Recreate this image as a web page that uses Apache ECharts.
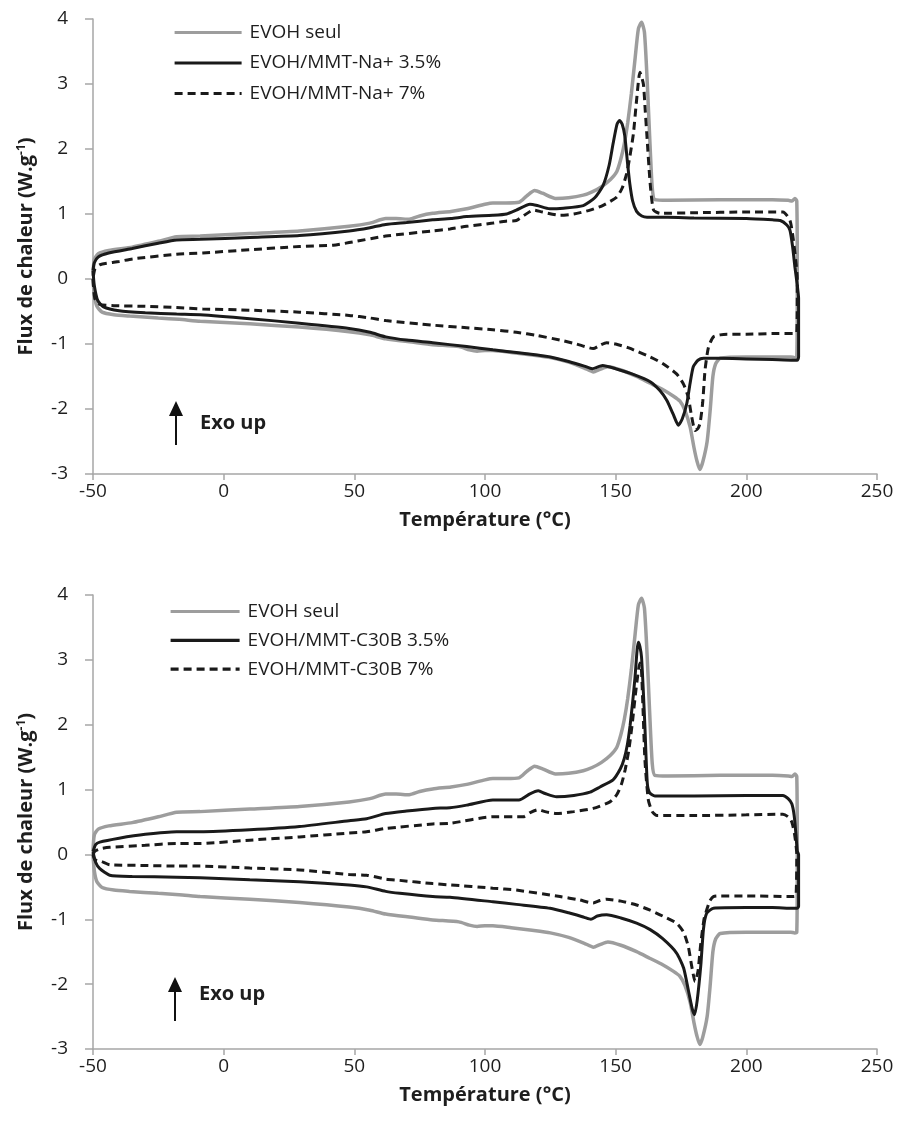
<!DOCTYPE html>
<html>
<head>
<meta charset="utf-8">
<script src="https://cdn.jsdelivr.net/npm/echarts@6/dist/echarts.min.js"></script>
<style>
html,body{margin:0;padding:0;background:#fff;}
#chart{width:901px;height:1135px;}
</style>
</head>
<body>
<div id="chart"></div>
<script>
// ---------- DATA (temperature °C, heat flux W/g) ----------
const xTicks = [-50, 0, 50, 100, 150, 200, 250];
const yTicks = [-3, -2, -1, 0, 1, 2, 3, 4];

// EVOH seul (same curve in both panels)
const evohHeat = [[-50,0.0],[-49.5,-0.25],[-48.5,-0.42],[-46.5,-0.51],[-42,-0.55],[-36,-0.57],[-25,-0.6],[-17,-0.62],[-9,-0.65],[10,-0.69],[29,-0.74],[48,-0.81],[56,-0.86],[62,-0.92],[72,-0.97],[80,-1.01],[90,-1.04],[94,-1.09],[97,-1.11],[100,-1.1],[103,-1.1],[110,-1.13],[118,-1.17],[125,-1.21],[132,-1.28],[138,-1.37],[141.5,-1.43],[144,-1.39],[147,-1.35],[152,-1.4],[158,-1.5],[163,-1.6],[168,-1.7],[172,-1.8],[174.6,-1.88],[176.5,-2.02],[178.5,-2.28],[180,-2.6],[181.1,-2.8],[182.2,-2.93],[183.3,-2.82],[185,-2.5],[186.2,-2.0],[187.2,-1.5],[188.3,-1.3],[190,-1.22],[200,-1.2],[210,-1.2],[217,-1.2],[218.5,-1.21],[219.3,-1.2],[219.5,0]];
const evohCool = [[-50,0.05],[-49.5,0.3],[-48,0.39],[-44,0.44],[-35,0.49],[-25,0.58],[-18,0.65],[-9,0.66],[10,0.7],[29,0.74],[48,0.81],[56,0.86],[62,0.93],[66,0.93],[71,0.92],[75,0.97],[80,1.01],[87,1.04],[93,1.08],[100,1.15],[103,1.17],[108,1.17],[113,1.18],[116,1.28],[119,1.36],[122,1.32],[127,1.24],[132,1.25],[137.6,1.29],[141,1.34],[144.6,1.42],[148,1.53],[150.4,1.65],[152,1.85],[153.3,2.08],[154.6,2.4],[156,2.85],[157.4,3.38],[158.7,3.85],[159.9,3.95],[161,3.8],[162,3.1],[163,2.2],[164,1.4],[165,1.22],[170,1.21],[190,1.22],[210,1.22],[216,1.21],[217.5,1.2],[218.6,1.24],[219.3,1.2],[219.5,0]];

// EVOH/MMT-Na+ 3.5%
const na35Heat = [[-50,0.13],[-49.5,-0.1],[-48.2,-0.33],[-46,-0.43],[-40,-0.49],[-30,-0.52],[-18,-0.54],[-9,-0.55],[10,-0.61],[29,-0.68],[48,-0.76],[56,-0.82],[62,-0.89],[70,-0.94],[80,-0.98],[93,-1.04],[103,-1.09],[112,-1.13],[120,-1.17],[125,-1.2],[132,-1.27],[138,-1.34],[141,-1.38],[145,-1.33],[150,-1.38],[157,-1.47],[163.2,-1.58],[167,-1.72],[169.6,-1.87],[172,-2.08],[174,-2.25],[175.5,-2.15],[177.2,-1.92],[178.5,-1.6],[179.7,-1.35],[181.5,-1.25],[183.6,-1.22],[190,-1.22],[200,-1.23],[210,-1.24],[218,-1.25],[219.5,-1.25],[220,-1.2],[220,-0.3]];
const na35Cool = [[-50,0.13],[-49.5,0.25],[-48,0.34],[-44,0.4],[-35,0.47],[-25,0.55],[-18,0.6],[-9,0.61],[10,0.64],[29,0.67],[48,0.74],[56,0.79],[62,0.84],[70,0.87],[80,0.91],[87,0.93],[93,0.96],[103,0.98],[108.3,1.0],[112,1.06],[117.2,1.15],[120,1.13],[124.8,1.08],[130,1.09],[137.6,1.13],[142,1.25],[145.2,1.44],[147.5,1.75],[149,2.08],[150.5,2.38],[151.5,2.44],[152.5,2.38],[153.5,2.2],[154.5,1.8],[155.4,1.47],[156.5,1.2],[158,1.04],[160,0.97],[162,0.95],[170,0.95],[180,0.94],[200,0.93],[210,0.91],[213,0.9],[215.5,0.83],[216.7,0.75],[217.7,0.5],[218.6,0.18],[219.5,-0.1],[220,-0.3]];

// EVOH/MMT-Na+ 7%
const na7Heat = [[-50,0.0],[-49.3,-0.3],[-47.4,-0.39],[-42,-0.41],[-30,-0.42],[-18,-0.44],[-8,-0.46],[10,-0.48],[29,-0.51],[48,-0.56],[56,-0.6],[62,-0.64],[80,-0.71],[93,-0.75],[103,-0.78],[112,-0.82],[120,-0.87],[128.7,-0.94],[135,-1.0],[141.4,-1.07],[144,-1.02],[146.5,-0.98],[150,-1.0],[155,-1.06],[163.2,-1.2],[168,-1.3],[173.3,-1.46],[176,-1.62],[177.8,-1.82],[179,-2.1],[180.4,-2.33],[181.5,-2.3],[182.3,-2.22],[183.3,-1.9],[184.2,-1.4],[185.5,-1.05],[187.4,-0.89],[190,-0.86],[192.6,-0.85],[200,-0.85],[210,-0.84],[218,-0.84],[219.3,-0.82],[219.5,0]];
const na7Cool = [[-50,0.0],[-49.3,0.15],[-47.4,0.22],[-40,0.27],[-34.7,0.31],[-18,0.38],[-8,0.4],[10,0.45],[29,0.5],[41.9,0.52],[48,0.56],[62,0.66],[80,0.74],[86.6,0.77],[93,0.81],[103,0.86],[108,0.89],[112,0.9],[115,0.98],[118.5,1.06],[122,1.03],[128.7,0.98],[134,1.0],[140.2,1.06],[145,1.13],[150.4,1.26],[152.5,1.4],[154.2,1.62],[155.5,1.9],[156.8,2.24],[158,2.75],[159.3,3.18],[160.6,3.0],[161.3,2.6],[161.9,2.24],[163.2,1.47],[164.5,1.06],[167,1.01],[180,1.02],[200,1.03],[214,1.03],[216.7,0.9],[218,0.6],[219,0.25],[219.5,0]];

// EVOH/MMT-C30B 3.5%
const c35Heat = [[-50,0.04],[-49,-0.12],[-47.4,-0.22],[-43.6,-0.32],[-35,-0.34],[-18,-0.35],[-9,-0.36],[10,-0.39],[29,-0.42],[48,-0.47],[54.7,-0.5],[62,-0.57],[67.4,-0.6],[80,-0.65],[86.6,-0.66],[103,-0.73],[112,-0.77],[124.9,-0.83],[132,-0.9],[138,-0.97],[140.5,-1.0],[143,-0.95],[146.5,-0.93],[152,-0.98],[158,-1.06],[163.2,-1.16],[168,-1.3],[173.3,-1.52],[176,-1.75],[177.8,-2.09],[179.3,-2.38],[180.2,-2.47],[181.2,-2.25],[182.6,-1.7],[183.6,-1.15],[184.8,-0.91],[187.4,-0.83],[200,-0.82],[210,-0.82],[218,-0.83],[219.5,-0.83],[220,-0.8],[220,0]];
const c35Cool = [[-50,0.04],[-49,0.15],[-47.4,0.19],[-40,0.25],[-30,0.31],[-18,0.35],[-9,0.35],[10,0.38],[29,0.43],[48,0.52],[54.7,0.55],[62,0.63],[70,0.67],[80,0.71],[86.6,0.72],[93,0.76],[103,0.84],[113,0.84],[117,0.93],[120.4,0.98],[123,0.94],[127.4,0.89],[134,0.91],[140.2,0.96],[144,1.04],[149,1.15],[151.8,1.32],[153.3,1.48],[154.5,1.7],[155.5,1.98],[156.5,2.35],[157.4,2.73],[158.2,3.15],[158.7,3.27],[159.3,3.2],[159.9,3.04],[160.6,2.5],[161.2,1.96],[162.1,1.1],[163,0.95],[165,0.9],[180,0.9],[200,0.91],[214,0.91],[216,0.86],[217.4,0.78],[218.3,0.6],[219,0.3],[219.5,0.05],[220,0]];

// EVOH/MMT-C30B 7%
const c7Heat = [[-50,0.0],[-49.3,-0.08],[-46.7,-0.11],[-43.6,-0.16],[-30,-0.17],[-18,-0.18],[-9,-0.18],[10,-0.21],[29,-0.24],[48,-0.31],[54.7,-0.32],[62,-0.38],[67.4,-0.4],[80,-0.45],[86.6,-0.47],[103,-0.52],[112,-0.55],[128.7,-0.65],[136,-0.7],[141.4,-0.75],[144,-0.71],[146.5,-0.69],[152,-0.72],[158,-0.78],[163.2,-0.86],[168,-0.95],[173.3,-1.06],[176,-1.2],[177.8,-1.42],[179,-1.7],[180.4,-1.96],[181.5,-1.8],[182.5,-1.4],[183.8,-1.0],[184.8,-0.86],[186,-0.72],[187.4,-0.65],[190,-0.64],[200,-0.64],[218,-0.65],[219,-0.64],[219.3,0]];
const c7Cool = [[-50,0.0],[-49.3,0.05],[-47,0.09],[-43.6,0.11],[-30,0.14],[-18,0.17],[-9,0.17],[10,0.22],[29,0.27],[48,0.33],[54.7,0.35],[62,0.4],[80,0.47],[86.6,0.48],[103,0.58],[114.6,0.58],[117.5,0.65],[120.4,0.69],[123,0.66],[127.4,0.63],[134,0.66],[141.4,0.71],[147.8,0.81],[150.4,0.92],[152.2,1.08],[153.6,1.3],[155,1.6],[156.3,2.0],[157.8,2.55],[159.3,2.95],[159.8,2.9],[160.5,2.2],[161.2,1.45],[162.5,0.84],[164,0.66],[165.7,0.6],[180,0.6],[200,0.61],[214,0.62],[216,0.58],[217.4,0.5],[218.5,0.3],[219.3,0]];

const names1 = ['EVOH seul', 'EVOH/MMT-Na+ 3.5%', 'EVOH/MMT-Na+ 7%'];
const names2 = ['EVOH seul', 'EVOH/MMT-C30B 3.5%', 'EVOH/MMT-C30B 7%'];
const xTitle = 'Température (°C)';
const yTitle = 'Flux de chaleur (W.g{sup|-1})';
const noteText = 'Exo up';

// ---------- BUILD ----------
function loop(heat, cool) { return heat.concat(cool.slice().reverse()); }

const FONT = 'Open Sans';
const GRAY = '#9d9d9d';
const BLACK = '#1a1a1a';
const AXIS = '#a6a6a6';
const TXT = '#1e1e1e';

function mkX(gi) {
  return {
    type: 'value', gridIndex: gi, min: xTicks[0], max: xTicks[xTicks.length - 1], interval: 50,
    name: xTitle, nameLocation: 'middle', nameGap: 36,
    nameTextStyle: { fontFamily: FONT, fontWeight: 'bold', fontSize: 20, color: TXT },
    axisLine: { onZero: false, lineStyle: { color: AXIS, width: 1.5 } },
    axisTick: { show: true, length: 6, lineStyle: { color: AXIS, width: 1.5 } },
    axisLabel: { fontFamily: FONT, fontSize: 19, color: TXT, margin: 8 },
    splitLine: { show: false }
  };
}
function mkY(gi) {
  return {
    type: 'value', gridIndex: gi, min: yTicks[0], max: yTicks[yTicks.length - 1], interval: 1,
    name: yTitle, nameLocation: 'middle', nameGap: 57, nameRotate: 90,
    nameTextStyle: {
      fontFamily: FONT, fontWeight: 'bold', fontSize: 20, color: TXT,
      rich: { sup: { fontFamily: FONT, fontWeight: 'bold', fontSize: 12, color: TXT, verticalAlign: 'top', padding: [0, 0, 7, 0] } }
    },
    axisLine: { onZero: false, lineStyle: { color: AXIS, width: 1.5 } },
    axisTick: { show: true, length: 8, lineStyle: { color: AXIS, width: 1.5 } },
    axisLabel: { fontFamily: FONT, fontSize: 19, color: TXT, margin: 25 },
    splitLine: { show: false }
  };
}
function mkS(name, gi, data, color, width, dashed) {
  return {
    name: name, type: 'line', xAxisIndex: gi, yAxisIndex: gi, data: data,
    symbol: 'none', showSymbol: false, smooth: 0.2, silent: true,
    lineStyle: { color: color, width: width, type: dashed ? [8, 5] : 'solid' },
    itemStyle: { color: color }
  };
}
function mkLegend(names, left, top, w, gap) {
  return {
    data: names, orient: 'vertical', left: left, top: top, padding: 0,
    itemWidth: w, itemHeight: 16, itemGap: gap, selectedMode: false,
    itemStyle: { opacity: 0 },
    lineStyle: { width: 3.2 },
    textStyle: { fontFamily: FONT, fontSize: 19, color: TXT, padding: [0, 0, 0, 3] }
  };
}

const chart = echarts.init(document.getElementById('chart'), null, { renderer: 'canvas' });

function arrow(x, yTop, yBot) {
  return [
    { type: 'line', shape: { x1: x, y1: yTop + 10, x2: x, y2: yBot }, style: { stroke: '#111', lineWidth: 2 } },
    { type: 'polygon', shape: { points: [[x, yTop], [x - 7, yTop + 15], [x + 7, yTop + 15]] }, style: { fill: '#111' } }
  ];
}

chart.setOption({
  animation: false,
  backgroundColor: '#fff',
  grid: [
    { left: 93, top: 19, width: 784, height: 455 },
    { left: 93, top: 595, width: 784, height: 454 }
  ],
  xAxis: [mkX(0), mkX(1)],
  yAxis: [mkY(0), mkY(1)],
  legend: [
    mkLegend(names1, 173, 23, 67, 11.5),
    mkLegend(names2, 169, 602, 69, 9.8)
  ],
  graphic: [].concat(
    arrow(176, 401, 445),
    [{ type: 'text', left: 200, top: 413, style: { text: noteText, font: 'bold 20px "Open Sans"', fill: TXT } }],
    arrow(175, 977, 1021),
    [{ type: 'text', left: 199, top: 984, style: { text: noteText, font: 'bold 20px "Open Sans"', fill: TXT } }]
  ),
  series: [
    mkS(names1[0], 0, loop(evohHeat, evohCool), GRAY, 3.5, false),
    mkS(names1[1], 0, loop(na35Heat, na35Cool), BLACK, 3, false),
    mkS(names1[2], 0, loop(na7Heat, na7Cool), BLACK, 3, true),
    mkS(names2[0], 1, loop(evohHeat, evohCool), GRAY, 3.5, false),
    mkS(names2[1], 1, loop(c35Heat, c35Cool), BLACK, 3, false),
    mkS(names2[2], 1, loop(c7Heat, c7Cool), BLACK, 3, true)
  ]
});
</script>
</body>
</html>
